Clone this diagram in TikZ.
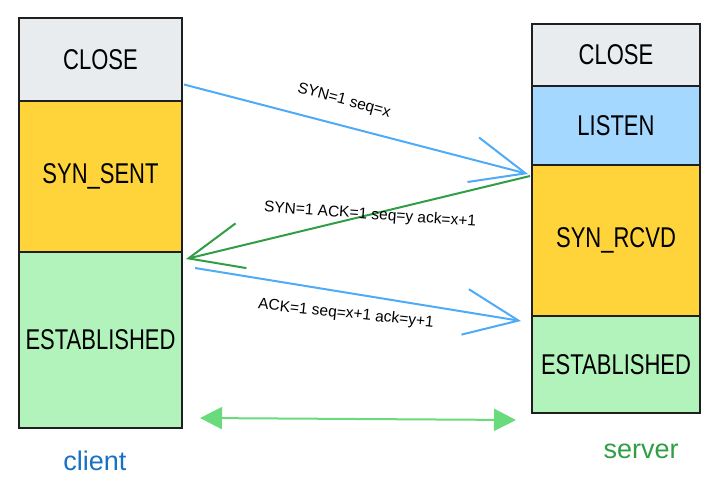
\documentclass[tikz,border=0pt]{standalone}
\usepackage{fontspec}
\usepackage{graphicx}
\setmainfont{Liberation Sans}
\usetikzlibrary{arrows.meta,calc}
\definecolor{cgray}{HTML}{E9ECEF}
\definecolor{cblue}{HTML}{A5D8FF}
\definecolor{cyellow}{HTML}{FFD43B}
\definecolor{cgreen}{HTML}{B2F2BB}
\definecolor{arrblue}{HTML}{4DABF7}
\definecolor{arrgreen}{HTML}{2F9E44}
\definecolor{lightgreen}{HTML}{69DB7C}
\definecolor{clientblue}{HTML}{1971C2}
\newcommand{\tallt}[1]{\scalebox{1}[1.3]{#1}}
\begin{document}
\begin{tikzpicture}[x=1pt,y=-1pt,
  state/.style={draw=black!88, line width=1.4pt, inner sep=0pt, outer sep=0pt,
    font=\fontsize{22}{26}\selectfont},
  clientbox/.style={state, minimum width=163pt},
  serverbox/.style={state, minimum width=168pt},
  lbl/.style={font=\fontsize{15.5}{18}\selectfont, inner sep=1pt},
  msg/.style={line width=2pt, -{Straight Barb[length=54pt,width=46pt,line width=2pt]}},
  side/.style={font=\fontsize{27}{32}\selectfont, inner sep=1pt}
]
\useasboundingbox (0,0) rectangle (722,503);

% client column
\node[clientbox, fill=cgray,   minimum height=83pt]  (cclose) at (100.5,59.5) {\tallt{CLOSE}};
\node[clientbox, fill=cyellow, minimum height=151pt] (csent)  at (100.5,176.5) {\tallt{SYN\_SENT}};
\node[clientbox, fill=cgreen,  minimum height=176pt] (cest)   at (100.5,340) {\tallt{ESTABLISHED}};

% server column
\node[serverbox, fill=cgray,   minimum height=62pt]  (sclose)  at (616,55) {\tallt{CLOSE}};
\node[serverbox, fill=cblue,   minimum height=79pt]  (slisten) at (616,125.5) {\tallt{LISTEN}};
\node[serverbox, fill=cyellow, minimum height=151pt] (srcvd)   at (616,240.5) {\tallt{SYN\_RCVD}};
\node[serverbox, fill=cgreen,  minimum height=97pt]  (sest)    at (616,364.5) {\tallt{ESTABLISHED}};

% messages
\draw[msg, arrblue] ([xshift=2pt,yshift=-25pt]cclose.east) -- ([xshift=-4pt,yshift=-9pt]srcvd.north west);
\draw[msg, arrgreen] ([xshift=-2pt,yshift=-11pt]srcvd.north west) -- ([xshift=4pt,yshift=-7pt]cest.north east);
\draw[msg, arrblue] ([xshift=13pt,yshift=-16pt]cest.north east) -- ([xshift=-11pt,yshift=-5pt]sest.north west);

% labels
\node[lbl, rotate=-15] (l1) at (344,101) {SYN=1 seq=x};
\node[lbl, rotate=-4]  (l2) at (370,215) {SYN=1 ACK=1 seq=y ack=x+1};
\node[lbl, rotate=-6]  (l3) at (346,314) {ACK=1 seq=x+1 ack=y+1};

% data transfer
\draw[lightgreen, line width=2pt, {Triangle[length=22pt,width=22pt]}-{Triangle[length=22pt,width=22pt]}]
  ([xshift=18pt,yshift=10pt]cest.south east) -- ([xshift=-16pt,yshift=-7pt]sest.south west);

% side labels
\node[side, text=clientblue] (client) at (95,461) {client};
\node[side, text=arrgreen]   (server) at (641,451) {server};
\end{tikzpicture}
\end{document}
